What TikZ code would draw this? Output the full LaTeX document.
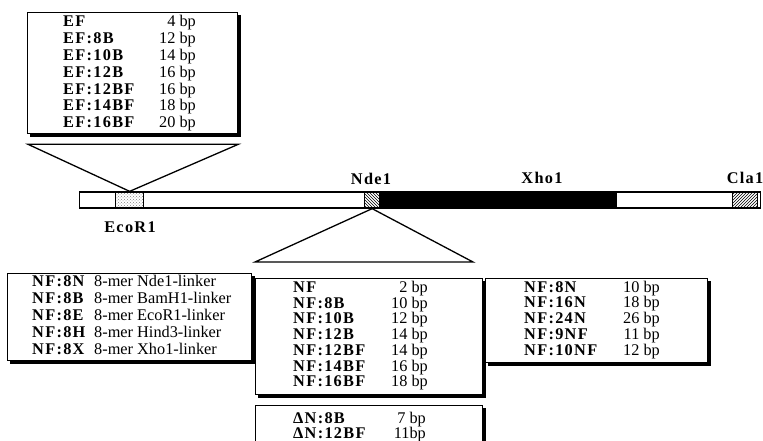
\documentclass[tikz,border=0pt]{standalone}
\usepackage{fontspec}
\setmainfont{Liberation Serif}
\newfontfamily\tagfont[LetterSpace=8]{Liberation Serif}
\usepackage{tikz}
\usetikzlibrary{calc,patterns}
\newcommand{\rowsize}{\fontsize{16.3}{18}\selectfont}
% thick right and bottom edge of a list box
\newcommand{\boxshade}[1]{%
  \draw[line width=2.4pt] ($(#1.north east)+(1.2,3)$) -- ($(#1.south east)+(1.2,1.2)$)
    -- ($(#1.south west)+(3,1.2)$);}

\begin{document}
\begin{tikzpicture}[x=1pt,y=-1pt,
    listbox/.style={draw,line width=1.3pt,fill=white,inner sep=0,anchor=north west},
    seg/.style={draw,line width=1.3pt,inner sep=0,minimum height=16pt,anchor=west},
    tag/.style={font=\tagfont\bfseries\rowsize,inner sep=0,anchor=base west},
    len/.style={font=\rmfamily\rowsize,inner sep=0,anchor=base east},
    linker/.style={font=\rmfamily\rowsize,inner sep=0,anchor=base west},
    site/.style={font=\tagfont\bfseries\rowsize,inner sep=0,anchor=base}]
  \clip (0,0) rectangle (763,441);

  % plasmid bar
  \node[seg,minimum width=681pt] (bar) at (79,200) {};
  \node[seg,minimum width=28pt,pattern=crosshatch dots,pattern color=gray] (ecor) at (115,200) {};
  \node[seg,minimum width=15pt,pattern=north west lines] (nde) at (364,200) {};
  \node[seg,minimum width=237pt,fill=black] (xho) at (379,200) {};
  \node[seg,minimum width=25pt,pattern=north east lines] (cla) at (732,200) {};

  \node[site] (ecolab) at (130,232) {EcoR1};
  \node[site] (ndelab) at (371,184) {Nde1};
  \node[site] (xholab) at (542,183) {Xho1};
  \node[site] (clalab) at (745,183) {Cla1};

  % EcoR1 insertions
  \node[listbox,minimum width=210pt,minimum height=121pt] (efbox) at (27,12) {};
  \boxshade{efbox}
  \foreach \n/\b [count=\i] in {EF/4,EF:8B/12,EF:10B/14,EF:12B/16,
      EF:12BF/16,EF:14BF/18,EF:16BF/20}{%
    \node[tag] (ef\i) at (63,{27+16.8*(\i-1)}) {\n};
    \node[len] (efbp\i) at (196,{27+16.8*(\i-1)}) {\b\ bp};
  }
  \coordinate (efl) at ($(efbox.south west)+(1,10)$);
  \coordinate (efr) at ($(efbox.south east)+(0,10)$);
  \draw[line width=1.3pt] (efl) -- (ecor.north) -- (efr) -- cycle;

  % Nde1 insertions
  \coordinate (nfl) at (255,262);
  \coordinate (nfr) at (473,262);
  \draw[line width=1.3pt] (nfl) -- (nde.south) -- (nfr) -- cycle;

  \node[listbox,minimum width=244pt,minimum height=87pt] (lkbox) at (7,273) {};
  \boxshade{lkbox}
  \foreach \n/\s [count=\i] in {NF:8N/Nde1,NF:8B/BamH1,NF:8E/EcoR1,
      NF:8H/Hind3,NF:8X/Xho1}{%
    \node[tag] (lk\i) at (32,{286+17.1*(\i-1)}) {\n};
    \node[linker] (lktxt\i) at (94,{286+17.1*(\i-1)}) {8-mer \s-linker};
  }

  \node[listbox,minimum width=227pt,minimum height=116pt] (nfbox) at (255,278) {};
  \boxshade{nfbox}
  \foreach \n/\b [count=\i] in {NF/2,NF:8B/10,NF:10B/12,NF:12B/14,
      NF:12BF/14,NF:14BF/16,NF:16BF/18}{%
    \node[tag] (nf\i) at (293,{292.5+15.7*(\i-1)}) {\n};
    \node[len] (nfbp\i) at (428,{292.5+15.7*(\i-1)}) {\b\ bp};
  }

  \node[listbox,minimum width=227pt,minimum height=50pt] (dnbox) at (255,405) {};
  \boxshade{dnbox}
  \node[tag] (dn1) at (293,423) {ΔN:8B};
  \node[len] (dnbp1) at (426,423) {7 bp};
  \node[tag] (dn2) at (293,438) {ΔN:12BF};
  \node[len] (dnbp2) at (426,438) {11bp};

  \node[listbox,minimum width=222pt,minimum height=84pt] (nnbox) at (485,278) {};
  \boxshade{nnbox}
  \foreach \n/\b [count=\i] in {NF:8N/10,NF:16N/18,NF:24N/26,NF:9NF/11,NF:10NF/12}{%
    \node[tag] (nn\i) at (524,{292+15.9*(\i-1)}) {\n};
    \node[len] (nnbp\i) at (660,{292+15.9*(\i-1)}) {\b\ bp};
  }
\end{tikzpicture}
\end{document}
